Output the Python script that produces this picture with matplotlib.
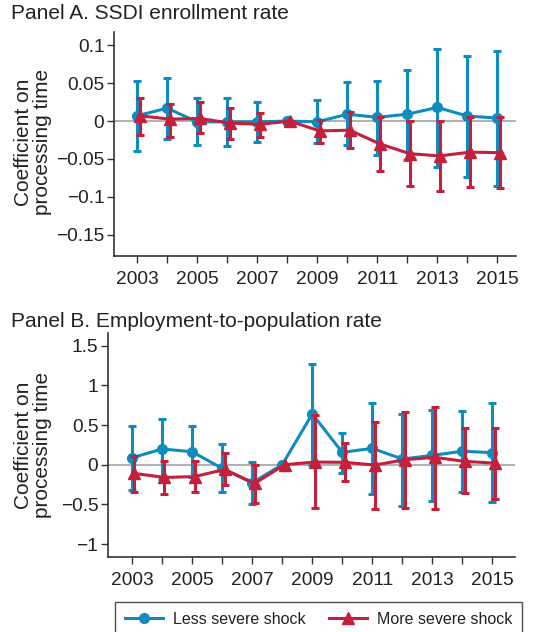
import matplotlib
matplotlib.use("Agg")
import matplotlib.pyplot as plt
import numpy as np
from matplotlib.lines import Line2D

plt.rcParams['font.family'] = ['Liberation Sans', 'DejaVu Sans']

years = [2003, 2004, 2005, 2006, 2007, 2008, 2009, 2010, 2011, 2012, 2013, 2014, 2015]
xtick_labels = ['2003', '2005', '2007', '2009', '2011', '2013', '2015']

# Panel A: SSDI enrollment rate
a_less = [0.007, 0.017, -0.001, -0.001, -0.001, 0.0, -0.001, 0.009, 0.005, 0.009, 0.018, 0.0066, 0.004]
a_less_hi = [0.0535, 0.0566, 0.030, 0.031, 0.025, 0.0, 0.0276, 0.051, 0.0535, 0.068, 0.095, 0.086, 0.0925]
a_less_lo = [-0.040, -0.023, -0.032, -0.033, -0.028, 0.0, -0.029, -0.032, -0.045, -0.052, -0.060, -0.074, -0.086]
a_more = [0.007, 0.0026, 0.0035, -0.0026, -0.0044, 0.0, -0.013, -0.012, -0.030, -0.043, -0.046, -0.041, -0.0417]
a_more_hi = [0.031, 0.0228, 0.025, 0.017, 0.011, 0.0, 0.0013, 0.0114, 0.005, 0.0004, 0.0, 0.006, 0.005]
a_more_lo = [-0.018, -0.021, -0.016, -0.023, -0.021, 0.0, -0.0285, -0.035, -0.066, -0.085, -0.0925, -0.087, -0.0886]
a_yticks = [0.1, 0.05, 0, -0.05, -0.1, -0.15]
a_ylabels = ['0.1', '0.05', '0', '\u22120.05', '\u22120.1', '\u22120.15']

# Panel B: Employment-to-population rate
b_less = [0.088, 0.198, 0.164, -0.046, -0.228, 0.0, 0.64, 0.156, 0.206, 0.072, 0.118, 0.17, 0.152]
b_less_hi = [0.49, 0.58, 0.49, 0.257, 0.038, 0.0, 1.27, 0.405, 0.775, 0.645, 0.695, 0.68, 0.775]
b_less_lo = [-0.32, -0.185, -0.16, -0.34, -0.49, 0.0, 0.0, -0.10, -0.367, -0.52, -0.46, -0.345, -0.476]
b_more = [-0.11, -0.16, -0.15, -0.06, -0.236, 0.0, 0.034, 0.03, -0.004, 0.063, 0.093, 0.042, 0.02]
b_more_hi = [0.114, 0.05, 0.042, 0.143, 0.0, 0.0, 0.628, 0.27, 0.544, 0.66, 0.733, 0.46, 0.468]
b_more_lo = [-0.34, -0.375, -0.34, -0.257, -0.485, 0.0, -0.548, -0.2, -0.556, -0.544, -0.56, -0.362, -0.43]
b_yticks = [1.5, 1, 0.5, 0, -0.5, -1]
b_ylabels = ['1.5', '1', '0.5', '0', '\u22120.5', '\u22121']

series_names = ['Less severe shock', 'More severe shock']

BLUE = '#0E8CC0'
RED = '#C4203B'
SPINE = '#333333'
TXT = '#222222'

W, H = 535, 632
fig = plt.figure(figsize=(W / 100, H / 100), dpi=100)


def px_axes(left, top, right, bottom):
    return fig.add_axes([left / W, 1 - bottom / H, (right - left) / W, (bottom - top) / H])


def draw_panel(ax, less, less_lo, less_hi, more, more_lo, more_hi, yticks, ylabels, ylim, xlim):
    x = np.array(years, dtype=float)
    less = np.array(less); more = np.array(more)
    ax.axhline(0, color='#AAAAAA', lw=1.3, zorder=1)
    ax.errorbar(x, less,
                yerr=[less - np.array(less_lo), np.array(less_hi) - less],
                color=BLUE, lw=2.2, marker='o', ms=7, elinewidth=2.2,
                capsize=3, capthick=2.2, zorder=3)
    ax.errorbar(x + 0.08, more,
                yerr=[more - np.array(more_lo), np.array(more_hi) - more],
                color=RED, lw=2.2, marker='^', ms=8.5, elinewidth=2.2,
                capsize=3, capthick=2.2, zorder=4)
    ax.set_xlim(*xlim)
    ax.set_ylim(*ylim)
    ax.set_xticks(years)
    ax.set_xticklabels([str(y) if str(y) in xtick_labels else '' for y in years])
    ax.set_yticks(yticks)
    ax.set_yticklabels(ylabels)
    for s in ['top', 'right']:
        ax.spines[s].set_visible(False)
    for s in ['left', 'bottom']:
        ax.spines[s].set_color(SPINE)
        ax.spines[s].set_linewidth(1.2)
    ax.tick_params(direction='out', length=5, width=1.0, color=SPINE,
                   labelsize=13.8, labelcolor=TXT, pad=2)
    ax.tick_params(axis='x', pad=6)


axA = px_axes(114, 32, 516, 256)
draw_panel(axA, a_less, a_less_lo, a_less_hi, a_more, a_more_lo, a_more_hi,
           a_yticks, a_ylabels, (-0.178, 0.1175), (2002.23, 2015.62))
axB = px_axes(108, 333, 515, 557)
draw_panel(axB, b_less, b_less_lo, b_less_hi, b_more, b_more_lo, b_more_hi,
           b_yticks, b_ylabels, (-1.163, 1.66), (2002.2, 2015.75))

fig.text(11 / W, 1 - 4 / H, 'Panel A. SSDI enrollment rate', fontsize=15,
         color=TXT, ha='left', va='top')
fig.text(11 / W, 1 - 312 / H, 'Panel B. Employment-to-population rate', fontsize=15,
         color=TXT, ha='left', va='top')

fig.text(33 / W, 1 - 142 / H, 'Coefficient on\nprocessing time', fontsize=15,
         color=TXT, rotation=90, ha='center', va='center', linespacing=1.0)
fig.text(33 / W, 1 - 445 / H, 'Coefficient on\nprocessing time', fontsize=15,
         color=TXT, rotation=90, ha='center', va='center', linespacing=1.0)

h1 = Line2D([], [], color=BLUE, lw=2.2, marker='o', ms=7)
h2 = Line2D([], [], color=RED, lw=2.2, marker='^', ms=8.5)
leg = fig.legend([h1, h2], series_names, loc='upper center',
                 bbox_to_anchor=(318.5 / W, 1 - 602 / H), ncol=2, frameon=True,
                 fancybox=False, edgecolor=TXT, fontsize=11.5,
                 handlelength=2.4, columnspacing=1.5, borderpad=0.6,
                 handletextpad=0.6, borderaxespad=0)
leg.get_frame().set_linewidth(1.0)
for t in leg.get_texts():
    t.set_color(TXT)

fig.savefig('out.png', dpi=100)
